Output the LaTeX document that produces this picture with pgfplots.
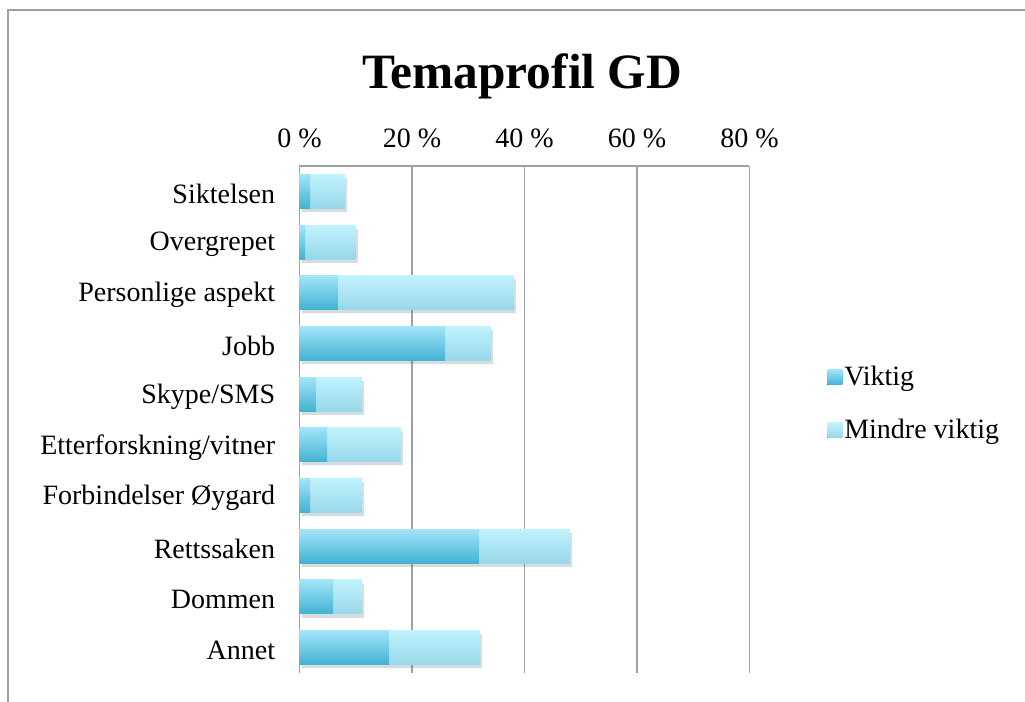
\documentclass[border=0pt]{standalone}
\usepackage{fontspec}
\setmainfont{Liberation Serif}
\usepackage{pgfplots}
\pgfplotsset{compat=1.18}
\definecolor{gridgray}{RGB}{160,160,160}
\definecolor{vtop}{RGB}{162,228,249}
\definecolor{vbot}{RGB}{66,178,210}
\definecolor{mtop}{RGB}{192,243,253}
\definecolor{mbot}{RGB}{152,215,233}
\pgfplotsset{
  tot/.style={forget plot, draw=none, top color=mtop, bottom color=mbot,
    preaction={fill=black, opacity=0.13, transform canvas={xshift=1.2pt, yshift=-1.8pt}}},
  vik/.style={forget plot, draw=none, top color=vtop, bottom color=vbot},
}
\begin{document}
\begin{tikzpicture}
\useasboundingbox (0,0) rectangle (512.5pt,-351pt);
\draw[gridgray, line width=0.7pt] (4pt,-380pt) -- (4pt,-5pt) -- (530pt,-5pt);
\node[font=\fontsize{24.7}{30}\selectfont\bfseries] at (261pt,-38pt) {Temaprofil GD};
\begin{axis}[
  at={(149.75pt,-83pt)}, anchor=north west,
  scale only axis, width=225pt, height=253.5pt,
  xbar, bar width=17pt, bar shift=0pt,
  xmin=0, xmax=80, ymin=-0.5, ymax=9.5,
  axis x line*=top, axis y line*=left,
  axis line style={gridgray, line width=0.75pt, -},
  xticklabel pos=upper,
  xtick={0,20,40,60,80}, xticklabels={0 \%,20 \%,40 \%,60 \%,80 \%},
  ytick={0,...,9},
  yticklabels={Annet,Dommen,Rettssaken,Forbindelser Øygard,Etterforskning/vitner,Skype/SMS,Jobb,Personlige aspekt,Overgrepet,Siktelsen},
  major tick length=0pt,
  xmajorgrids, grid style={gridgray, line width=0.75pt},
  tick label style={font=\fontsize{14}{16}\selectfont, inner sep=0pt},
  yticklabel style={yshift=-1.2pt},
  xticklabel shift=9pt, yticklabel shift=12pt,
  legend style={draw=none, fill=none, at={(1.172,0.531)}, anchor=west,
    font=\fontsize{14}{16}\selectfont, row sep=13.5pt, inner sep=0pt,
    nodes={inner sep=1pt, xshift=1pt}},
  legend cell align=left,
  legend image code/.code={\fill[#1] (0pt,-3.75pt) rectangle (7.5pt,3.75pt);},
]
% totals (Viktig + Mindre viktig)
\addplot[tot] coordinates {(32.1,0)};
\addplot[tot] coordinates {(11.1,1)};
\addplot[tot] coordinates {(48.1,2)};
\addplot[tot] coordinates {(11.1,3)};
\addplot[tot] coordinates {(18.0,4)};
\addplot[tot] coordinates {(11.1,5)};
\addplot[tot] coordinates {(34.0,6)};
\addplot[tot] coordinates {(38.1,7)};
\addplot[tot] coordinates {(10.0,8)};
\addplot[tot] coordinates {(8.1,9)};
% Viktig
\addplot[vik] coordinates {(15.9,0)};
\addplot[vik] coordinates {(6.0,1)};
\addplot[vik] coordinates {(31.9,2)};
\addplot[vik] coordinates {(1.9,3)};
\addplot[vik] coordinates {(4.9,4)};
\addplot[vik] coordinates {(2.9,5)};
\addplot[vik] coordinates {(25.9,6)};
\addplot[vik] coordinates {(6.8,7)};
\addplot[vik] coordinates {(1.0,8)};
\addplot[vik] coordinates {(1.9,9)};
\addlegendimage{draw=none, top color=vtop, bottom color=vbot}
\addlegendentry{Viktig}
\addlegendimage{draw=none, top color=mtop, bottom color=mbot}
\addlegendentry{Mindre viktig}
\end{axis}
\end{tikzpicture}
\end{document}
